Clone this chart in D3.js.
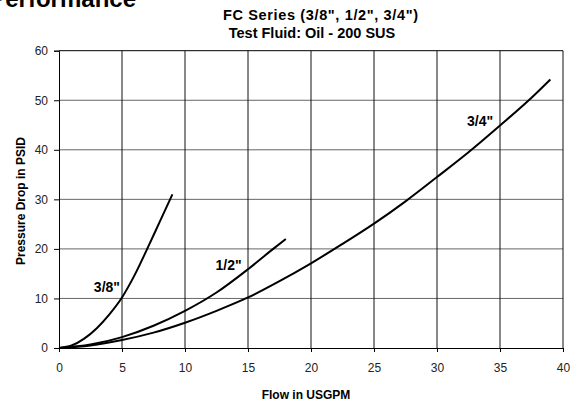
<!DOCTYPE html>
<html>
<head>
<meta charset="utf-8">
<script src="https://cdn.jsdelivr.net/npm/d3@7"></script>
<style>
  body { margin: 0; background: #fff; }
  svg { display: block; font-family: "Liberation Sans", Arial, Helvetica, sans-serif; }
</style>
</head>
<body>
<svg id="chart" width="574" height="403"></svg>
<script>
// values (flow USGPM, pressure drop PSID)
const flow38 = [0, 1, 2, 3, 4, 5, 6, 7, 8, 9]
const psid38 = [0, 0.5, 1.9, 4.0, 6.8, 10.2, 14.7, 20.0, 25.5, 31.0]

const flow12 = [0, 2.5, 5, 7.5, 10, 12.5, 15, 17, 18]
const psid12 = [0, 0.7, 2.2, 4.5, 7.5, 11.2, 15.9, 20.0, 22.0]

const flow34 = [0, 2.5, 5, 7.5, 10, 12.5, 15, 17.5, 20, 22.5, 25, 27.5, 30, 32.5, 35, 37.5, 39]
const psid34 = [0, 0.5, 1.6, 3.1, 5.1, 7.5, 10.2, 13.5, 17.1, 21.0, 25.1, 29.6, 34.5, 39.5, 44.9, 50.5, 54.2]

const xTicks = [0, 5, 10, 15, 20, 25, 30, 35, 40]
const yTicks = [0, 10, 20, 30, 40, 50, 60]

const series = [
  { name: '3/8"', x: flow38, y: psid38, lx: 4.84, ly: 11.3 },
  { name: '1/2"', x: flow12, y: psid12, lx: 14.5, ly: 15.7 },
  { name: '3/4"', x: flow34, y: psid34, lx: 34.45, ly: 44.75 }
]

const svg = d3.select('#chart')
const m = { left: 59, right: 563, top: 50.7, bottom: 348 }

const x = d3.scaleLinear().domain([0, 40]).range([m.left, m.right])
const y = d3.scaleLinear().domain([0, 60]).range([m.bottom, m.top])

// heading of the page, cut by the top edge as in the original scan
svg.append('text')
    .attr('x', 136).attr('y', 7)
    .attr('text-anchor', 'end')
    .style('font-size', '24px').style('font-weight', 'bold')
    .text('Performance')

svg.append('text')
    .attr('x', 223).attr('y', 20)
    .attr('textLength', 195).attr('lengthAdjust', 'spacing')
    .style('font-size', '14.5px').style('font-weight', 'bold')
    .text('FC Series (3/8", 1/2", 3/4")')
svg.append('text')
    .attr('x', 312).attr('y', 37.5)
    .attr('text-anchor', 'middle')
    .style('font-size', '14.5px').style('font-weight', 'bold')
    .text('Test Fluid: Oil - 200 SUS')

// grid
svg.append('g').selectAll('line')
  .data(yTicks.filter(d => d > 0))
  .enter().append('line')
    .attr('x1', m.left).attr('x2', m.right)
    .attr('y1', d => y(d)).attr('y2', d => y(d))
    .attr('stroke', d => d === 60 ? '#000' : '#666')
    .attr('stroke-width', 1)

svg.append('g').selectAll('line')
  .data(xTicks.filter(d => d > 0))
  .enter().append('line')
    .attr('x1', d => x(d)).attr('x2', d => x(d))
    .attr('y1', m.top).attr('y2', m.bottom)
    .attr('stroke', '#111')
    .attr('stroke-width', 1)

// axes
const xAxis = svg.append('g')
    .attr('transform', 'translate(0,' + m.bottom + ')')
    .call(d3.axisBottom(x).tickValues(xTicks).tickSize(4).tickPadding(11))
const yAxis = svg.append('g')
    .attr('transform', 'translate(' + m.left + ',0)')
    .call(d3.axisLeft(y).tickValues(yTicks).tickSize(5).tickPadding(6))

;[xAxis, yAxis].forEach(a => {
  a.select('.domain').attr('stroke', '#000')
  a.selectAll('.tick line').attr('stroke', '#000')
  a.selectAll('.tick text')
      .attr('fill', '#222')
      .style('font-size', '12px')
      .style('font-family', '"Liberation Sans", Arial, Helvetica, sans-serif')
})

// axis titles
svg.append('text')
    .attr('x', 306).attr('y', 399)
    .attr('text-anchor', 'middle')
    .style('font-size', '12px').style('font-weight', 'bold')
    .text('Flow in USGPM')
svg.append('text')
    .attr('transform', 'translate(25,201) rotate(-90)')
    .attr('text-anchor', 'middle')
    .style('font-size', '12px').style('font-weight', 'bold')
    .text('Pressure Drop in PSID')

// curves
const line = d3.line()
    .x(d => x(d[0]))
    .y(d => y(d[1]))
    .curve(d3.curveMonotoneX)

const g = svg.append('g')
series.forEach(s => {
  g.append('path')
      .datum(s.x.map((v, i) => [v, s.y[i]]))
      .attr('d', line)
      .attr('fill', 'none')
      .attr('stroke', '#000')
      .attr('stroke-width', 2)
  g.append('text')
      .attr('x', x(s.lx)).attr('y', y(s.ly))
      .attr('text-anchor', 'end')
      .style('font-size', '14px').style('font-weight', 'bold')
      .text(s.name)
})
</script>
</body>
</html>
